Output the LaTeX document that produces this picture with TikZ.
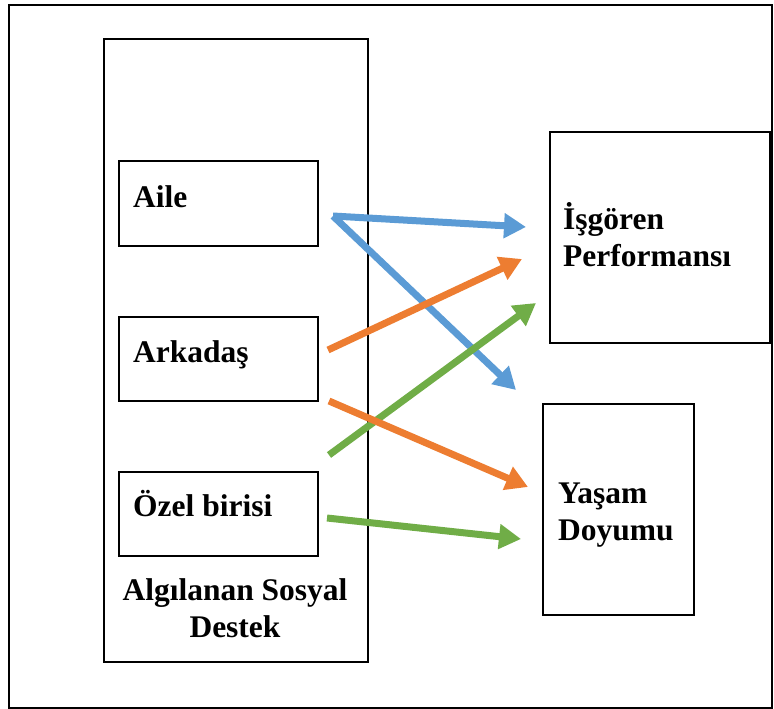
\documentclass[tikz,border=0pt]{standalone}
\usepackage{fontspec}
\setmainfont{Liberation Serif}
\usetikzlibrary{arrows.meta}
\definecolor{cblue}{HTML}{5B9BD5}
\definecolor{corange}{HTML}{ED7D31}
\definecolor{cgreen}{HTML}{70AD47}
\begin{document}
\begin{tikzpicture}[x=1pt,y=-1pt,
  box/.style={draw=black,line width=2pt,inner sep=0pt,anchor=north west},
  lbl/.style={font=\fontsize{31.5}{37}\selectfont\bfseries,inner sep=0pt,anchor=base west,align=left},
  arr/.style={line width=7pt,-{Triangle[length=22pt,width=24pt]}}]
\useasboundingbox (0,0) rectangle (774,709);
\node[box,minimum width=763pt,minimum height=703pt] (frame) at (8,4) {};
\node[box,minimum width=264pt,minimum height=623pt] (asd) at (103,38) {};
\node[box,minimum width=199pt,minimum height=85pt] (aile) at (118,160) {};
\node[box,minimum width=199pt,minimum height=84pt] (ark) at (118,316) {};
\node[box,minimum width=199pt,minimum height=84pt] (ozel) at (118,471) {};
\node[box,minimum width=220pt,minimum height=211pt] (isg) at (549,131) {};
\node[box,minimum width=151pt,minimum height=211pt] (yas) at (542,403) {};
\node[lbl] (taile) at (133,207) {Aile};
\node[lbl] (tark) at (133,362) {Arkadaş};
\node[lbl] (tozel) at (133,516) {Özel birisi};
\node[lbl] (tisg) at (563,266) {İşgören\\Performansı};
\node[lbl] (tyas) at (558,540) {Yaşam\\Doyumu};
\node[font=\fontsize{31.5}{37}\selectfont\bfseries,inner sep=0pt,anchor=base,align=center] (tasd) at (235,637) {Algılanan Sosyal\\Destek};
\coordinate (a0) at (333,216);
\coordinate (a1) at (526,227);
\coordinate (a2) at (516,390);
\coordinate (b0) at (328,350);
\coordinate (b1) at (522,259);
\coordinate (c0) at (329,455);
\coordinate (c1) at (536,303);
\coordinate (d0) at (329,401);
\coordinate (d1) at (528,487);
\coordinate (e0) at (327,518);
\coordinate (e1) at (521,539);
\draw[arr,cblue] (a0) -- (a1);
\draw[arr,cblue] (a0) -- (a2);
\draw[arr,corange] (b0) -- (b1);
\draw[arr,cgreen] (c0) -- (c1);
\draw[arr,corange] (d0) -- (d1);
\draw[arr,cgreen] (e0) -- (e1);
\end{tikzpicture}
\end{document}
